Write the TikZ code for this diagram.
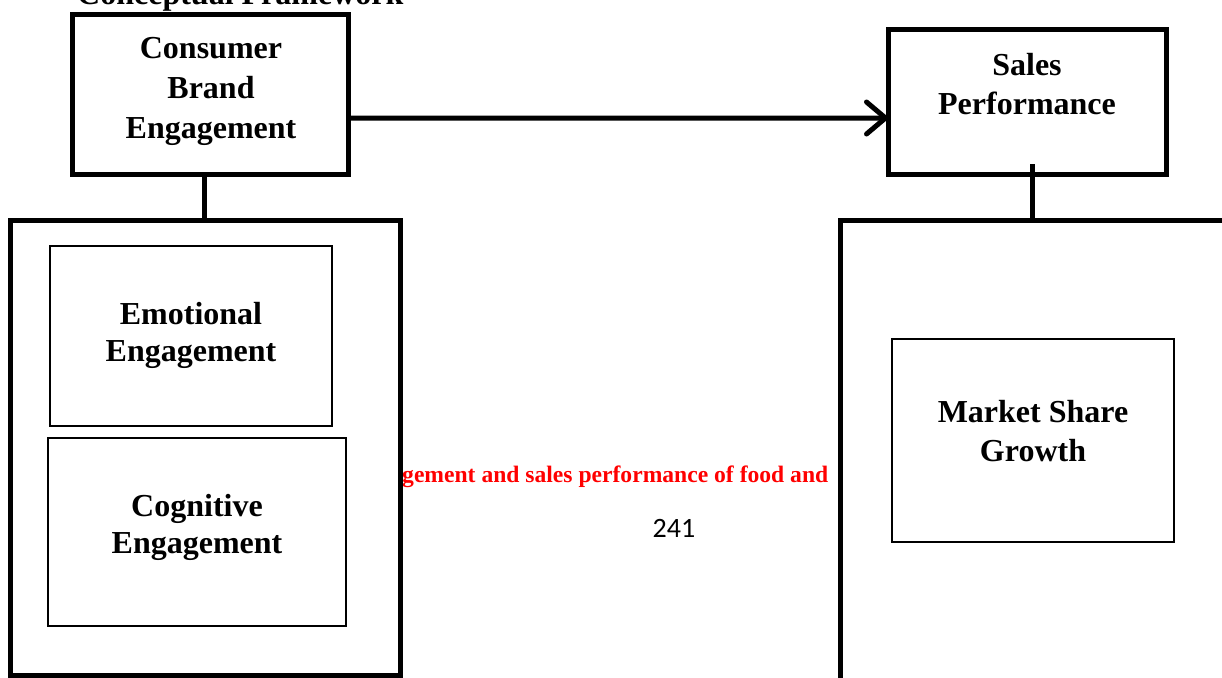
\documentclass[tikz,border=0pt]{standalone}
\usepackage{fontspec}
\setmainfont{Liberation Serif}
\newfontfamily\calfont{Carlito}
\usetikzlibrary{arrows.meta}
\begin{document}
\begin{tikzpicture}[x=1pt,y=-1pt,
  thickbox/.style={draw=black,line width=5pt,minimum width=#1,inner sep=0pt,outer sep=0pt},
  thinbox/.style={draw=black,line width=1.5pt,inner sep=0pt,outer sep=0pt},
  lbl/.style={font=\fontsize{32}{39}\selectfont\bfseries,align=center,inner sep=0pt},
  conn/.style={line width=5pt}]
\useasboundingbox (0,0) rectangle (1222,677);
\clip (0,0) rectangle (1222,677);
\node[anchor=base west,inner sep=0pt,font=\fontsize{32}{39}\selectfont\bfseries] (title) at (77,5) {Conceptual Framework};
% red text and page number
\node[anchor=west,inner sep=0pt,text=red,font=\fontsize{23.6}{28}\selectfont\bfseries] (red) at (402,477) {gement and sales performance of food and};
\node[inner sep=0pt,font=\calfont\fontsize{28}{32}\selectfont] (pg) at (674,528) {241};
% boxes
\node[thickbox=276pt,minimum height=159.5pt] (cbe) at (210,94.25) {};
\node[thickbox=278pt,minimum height=144pt] (sp) at (1027,102) {};
\node[thickbox=390pt,minimum height=455pt] (bigL) at (205,447.5) {};
\node[thickbox=400pt,minimum height=480pt] (bigR) at (1040,460) {};
\node[thinbox,minimum width=282pt,minimum height=180pt] (emo) at (191,336) {};
\node[thinbox,minimum width=298pt,minimum height=188pt] (cog) at (197,532) {};
\node[thinbox,minimum width=282pt,minimum height=203pt] (msg) at (1033,440.5) {};
% labels
\node[lbl,font=\fontsize{32}{40}\selectfont\bfseries] (tcbe) at (211,91) {Consumer\\Brand\\Engagement};
\node[lbl] (tsp) at (1027,84) {Sales\\Performance};
\node[lbl,font=\fontsize{32}{37}\selectfont\bfseries] (temo) at (191,335) {Emotional\\Engagement};
\node[lbl,font=\fontsize{32}{37}\selectfont\bfseries] (tcog) at (197,527) {Cognitive\\Engagement};
\node[lbl] (tmsg) at (1033,431) {Market Share\\Growth};
% connectors
\draw[conn,-{Straight Barb[length=19pt,width=32pt,round]}] ([yshift=-24pt]cbe.east) -- ([yshift=-16pt]sp.west);
\draw[conn] ([xshift=-6pt]cbe.south) -- ([xshift=-6pt]cbe.south |- bigL.north);
\draw[conn] ([xshift=5pt,yshift=10pt]sp.south) -- ([xshift=5pt]sp.south |- bigR.north);
\end{tikzpicture}
\end{document}
